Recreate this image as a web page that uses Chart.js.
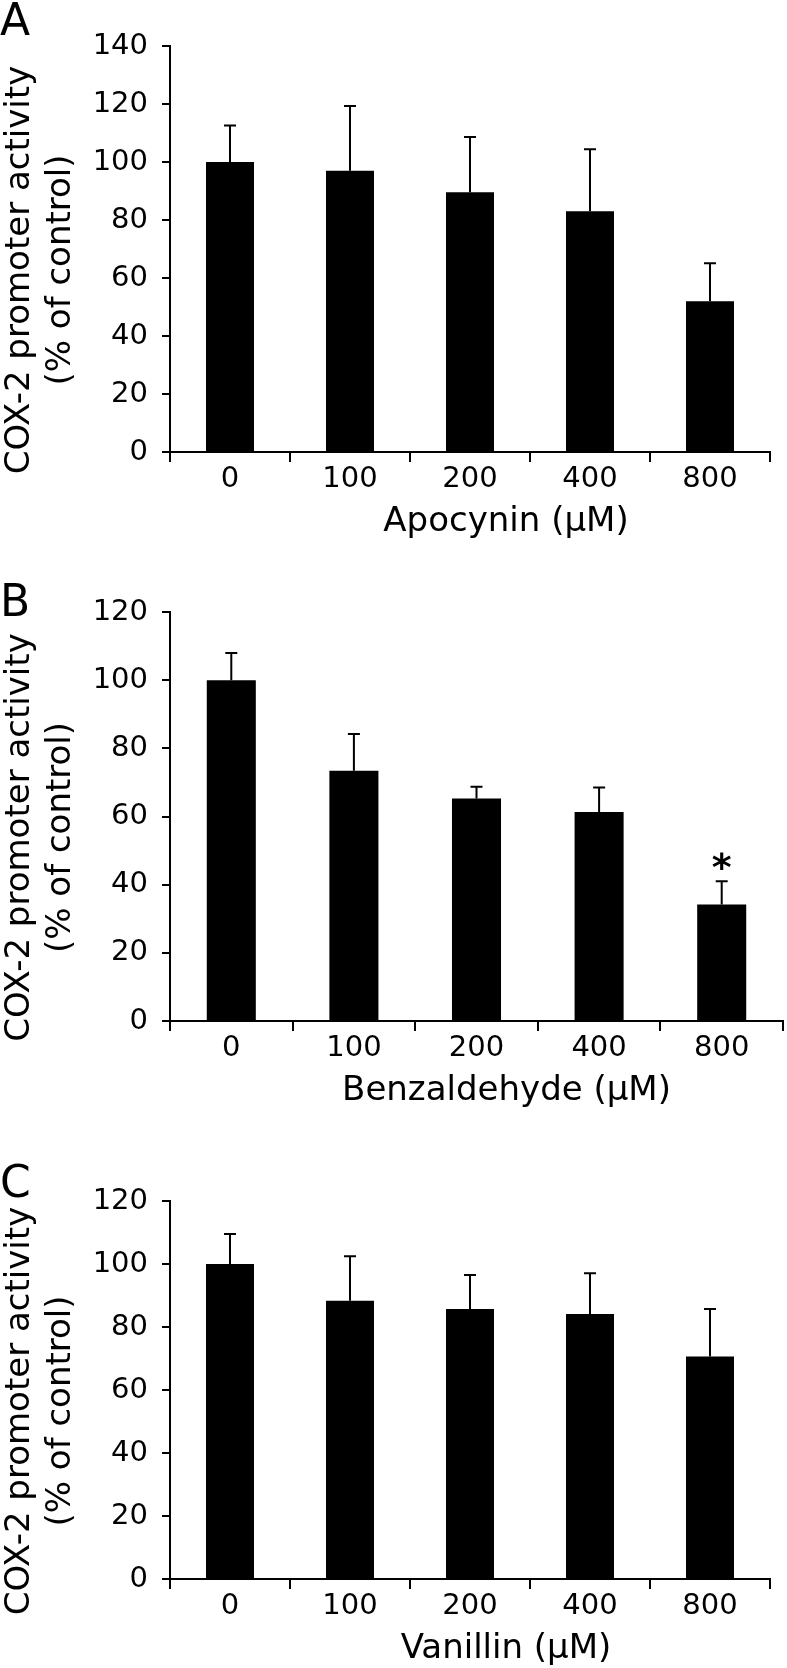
<!DOCTYPE html>
<html>
<head>
<meta charset="utf-8">
<script src="https://cdn.jsdelivr.net/npm/chart.js@4.4.1/dist/chart.umd.min.js"></script>
<style>
  html, body { margin: 0; padding: 0; background: #fff; }
  body { width: 787px; height: 1668px; position: relative; overflow: hidden; font-family: "DejaVu Sans", sans-serif; }
  .panel { position: absolute; left: 0; width: 787px; }
  .letter { position: absolute; left: 0; font-size: 44px; line-height: 44px; color: #000; z-index: 2; }
</style>
</head>
<body>
<div class="panel" style="top:0"><canvas id="chartA" width="787" height="540"></canvas></div>
<div class="panel" style="top:540px"><canvas id="chartB" width="787" height="569"></canvas></div>
<div class="panel" style="top:1109px"><canvas id="chartC" width="787" height="558"></canvas></div>
<div class="letter" style="top:-2px">A</div>
<div class="letter" style="top:579px">B</div>
<div class="letter" style="top:1160px">C</div>

<script>
const FONT = "'DejaVu Sans', sans-serif";

const doses = ["0", "100", "200", "400", "800"];
const yTitle = ["COX-2 promoter activity", "(% of control)"];

// mean and upper SD, % of control
const apocyninMean = [100, 97, 89.6, 83, 52];
const apocyninSD = [12.6, 22.3, 19, 21.4, 13.1];

const benzaldehydeMean = [100, 73.4, 65.3, 61.3, 34.2];
const benzaldehydeSD = [8, 10.8, 3.4, 7.2, 6.8];
const benzaldehydeSig = ["", "", "", "", "*"];

const vanillinMean = [100, 88.3, 85.7, 84.1, 70.6];
const vanillinSD = [9.5, 14.2, 10.8, 13, 15.1];

// upper error bars (+ significance mark) drawn over the bars
const errorBars = {
  id: "errorBars",
  afterDatasetsDraw(chart) {
    const { ctx } = chart;
    const y = chart.scales.y;
    const ds = chart.data.datasets[0];
    const meta = chart.getDatasetMeta(0);
    ctx.save();
    ctx.strokeStyle = "#000";
    ctx.lineWidth = 2;
    meta.data.forEach((bar, i) => {
      const top = y.getPixelForValue(ds.data[i] + ds.sd[i]);
      ctx.beginPath();
      ctx.moveTo(bar.x, bar.y);
      ctx.lineTo(bar.x, top);
      ctx.moveTo(bar.x - 6, top);
      ctx.lineTo(bar.x + 6, top);
      ctx.stroke();
      if (ds.marks && ds.marks[i]) {
        ctx.fillStyle = "#000";
        ctx.font = "bold 38px " + FONT;
        ctx.textAlign = "center";
        ctx.textBaseline = "alphabetic";
        const m = ctx.measureText(ds.marks[i]);
        const mid = (m.actualBoundingBoxAscent - m.actualBoundingBoxDescent) / 2;
        ctx.fillText(ds.marks[i], bar.x, top - 20 + mid);
      }
    });
    ctx.restore();
  }
};

// axis titles, placed like the original figure (slightly off the plot centre)
const axisTitles = {
  id: "axisTitles",
  afterDraw(chart, args, opts) {
    const { ctx, chartArea } = chart;
    ctx.save();
    ctx.fillStyle = "#000";
    ctx.font = "34px " + FONT;
    ctx.textAlign = "center";

    ctx.textBaseline = "middle";
    ctx.fillText(opts.x, (chartArea.left + chartArea.right) / 2 + opts.xShift, chartArea.bottom + 70);

    ctx.textBaseline = "alphabetic";
    ctx.translate(0, (chartArea.top + chartArea.bottom) / 2 + 21);
    ctx.rotate(-Math.PI / 2);
    ctx.fillText(yTitle[0], 0, 29);
    ctx.fillText(yTitle[1], 0, 70);
    ctx.restore();
  }
};

function makeChart(id, mean, sd, marks, xTitle, xShift, yMax, topPad, rightPad) {
  return new Chart(document.getElementById(id), {
    type: "bar",
    data: {
      labels: doses,
      datasets: [{
        data: mean,
        sd: sd,
        marks: marks,
        backgroundColor: "#000",
        borderWidth: 0,
        categoryPercentage: 1,
        barPercentage: 0.4
      }]
    },
    options: {
      responsive: false,
      animation: false,
      layout: { padding: { top: topPad, right: rightPad, bottom: 0, left: 0 } },
      plugins: {
        legend: { display: false },
        tooltip: { enabled: false },
        axisTitles: { x: xTitle, xShift: xShift }
      },
      scales: {
        x: {
          grid: { offset: true, drawOnChartArea: false, tickLength: 10, color: "#000", lineWidth: 2 },
          border: { color: "#000", width: 2 },
          ticks: { color: "#000", font: { family: FONT, size: 29 }, padding: 0, maxRotation: 0 },
          afterFit(axis) { axis.height = 88; }
        },
        y: {
          min: 0,
          max: yMax,
          ticks: { stepSize: 20, color: "#000", font: { family: FONT, size: 29 }, padding: 14 },
          grid: { drawOnChartArea: false, tickLength: 8, color: "#000", lineWidth: 2 },
          border: { color: "#000", width: 2 },
          afterFit(axis) { axis.width = 170; }
        }
      }
    },
    plugins: [errorBars, axisTitles]
  });
}

makeChart("chartA", apocyninMean, apocyninSD, null, "Apocynin (µM)", 36, 140, 46, 17);
makeChart("chartB", benzaldehydeMean, benzaldehydeSD, benzaldehydeSig, "Benzaldehyde (µM)", 30, 120, 72, 4);
makeChart("chartC", vanillinMean, vanillinSD, null, "Vanillin (µM)", 36, 120, 92, 17);
</script>
</body>
</html>
